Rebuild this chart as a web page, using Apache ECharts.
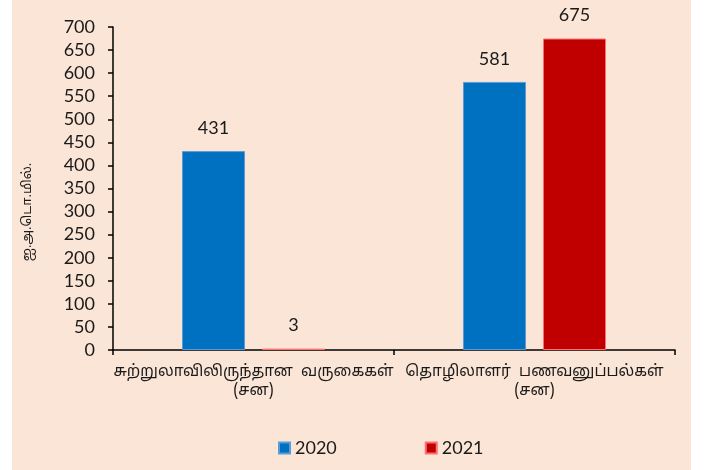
<!DOCTYPE html>
<html>
<head>
<meta charset="utf-8">
<script src="https://cdn.jsdelivr.net/npm/echarts@6/dist/echarts.min.js"></script>
<style>
html,body{margin:0;padding:0;background:#ffffff;}
#chart{position:absolute;left:12px;top:0;width:679px;height:470px;}
</style>
</head>
<body>
<div id="chart"></div>
<script>
const categories = ['சுற்றுலாவிலிருந்தான  வருகைகள்\n(சன)', 'தொழிலாளர்  பணவனுப்பல்கள்\n(சன)'];
const seriesNames = ['2020', '2021'];
const values2020 = [431, 581];
const values2021 = [3, 675];
const yAxisTitle = 'ஐ.அ.டொ.மில்.';

const font = "Lato, 'Noto Sans', sans-serif";
const tamilFont = "'Noto Sans Tamil', 'Noto Serif Tamil', 'Lohit Tamil', 'Noto Sans', sans-serif";
const chart = echarts.init(document.getElementById('chart'));
chart.setOption({
  backgroundColor: '#FBE5D6',
  animation: false,
  textStyle: {fontFamily: font, color: '#1a1a1a'},
  grid: {left: 101, right: 16, top: 27, bottom: 120},
  legend: {
    bottom: 8, left: 261, itemWidth: 11, itemHeight: 11, itemGap: 88,
    icon: 'rect',
    textStyle: {fontSize: 18, color: '#1a1a1a', fontFamily: font},
    data: seriesNames
  },
  graphic: [{
    type: 'text', x: 16, y: 212, rotation: Math.PI / 2,
    style: {text: yAxisTitle, fontSize: 13, fill: '#1a1a1a', align: 'center', verticalAlign: 'middle', fontFamily: tamilFont}
  }],
  xAxis: {
    type: 'category', data: categories,
    axisLine: {lineStyle: {color: '#000', width: 1.5}},
    axisTick: {show: true, length: 5, lineStyle: {color: '#000', width: 1.5}},
    axisLabel: {fontSize: 15.5, color: '#1a1a1a', margin: 13, lineHeight: 19, interval: 0, fontFamily: tamilFont}
  },
  yAxis: {
    type: 'value', min: 0, max: 700, interval: 50,
    splitLine: {show: false},
    axisLine: {show: true, lineStyle: {color: '#000', width: 1.5}},
    axisTick: {show: true, length: 5, lineStyle: {color: '#000', width: 1.5}},
    axisLabel: {fontSize: 18, color: '#1a1a1a', margin: 18}
  },
  series: [
    {name: seriesNames[0], type: 'bar', data: values2020, barWidth: 63, barGap: '27%',
     itemStyle: {color: '#0070C0', borderColor: '#5B9BD5', borderWidth: 1},
     label: {show: true, position: 'top', distance: 14, fontSize: 18, color: '#1a1a1a', fontFamily: font}},
    {name: seriesNames[1], type: 'bar', data: values2021, barWidth: 63,
     itemStyle: {color: '#C00000', borderColor: '#FF6F6F', borderWidth: 1},
     label: {show: true, position: 'top', distance: 14, fontSize: 18, color: '#1a1a1a', fontFamily: font}}
  ]
});
</script>
</body>
</html>
